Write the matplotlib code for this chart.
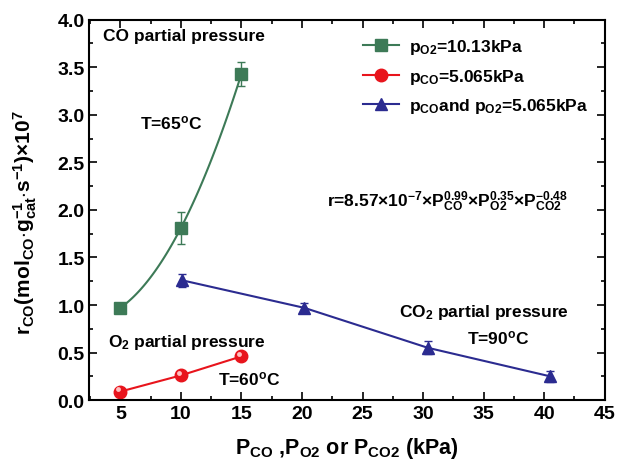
import numpy as np
import matplotlib
matplotlib.use('Agg')
import matplotlib.pyplot as plt
import matplotlib.transforms as mtrans
from matplotlib.ticker import MultipleLocator

plt.rcParams['font.family'] = 'Liberation Sans'
plt.rcParams['font.weight'] = 'bold'
plt.rcParams['axes.labelweight'] = 'bold'
plt.rcParams['mathtext.fontset'] = 'custom'
plt.rcParams['mathtext.rm'] = 'Liberation Sans:bold'
plt.rcParams['mathtext.bf'] = 'Liberation Sans:bold'
plt.rcParams['mathtext.it'] = 'Liberation Sans:bold'
plt.rcParams['mathtext.default'] = 'bf'

# CO partial pressure series (pO2 = 10.13 kPa)
co_x = [5, 10, 15]
co_y = [0.97, 1.81, 3.43]
co_err = [0.03, 0.17, 0.13]

# O2 partial pressure series (pCO = 5.065 kPa)
o2_x = [5, 10, 15]
o2_y = [0.09, 0.26, 0.46]

# CO2 partial pressure series
co2_x = [10.1, 20.2, 30.4, 40.5]
co2_y = [1.26, 0.97, 0.55, 0.25]
co2_err = [0.07, 0.05, 0.07, 0.06]

green = '#3d7a57'
red = '#e8141c'
blue = '#2b2b90'

fig, ax = plt.subplots(figsize=(6.17, 4.6), dpi=100)
fig.subplots_adjust(left=0.145, right=0.98, top=0.955, bottom=0.128)

# smooth curve through the CO points
c = np.polyfit(co_x, co_y, 2)
xs = np.linspace(co_x[0], co_x[-1], 100)
ax.plot(xs, np.polyval(c, xs), color=green, lw=1.5)
ax.errorbar(co_x, co_y, yerr=co_err, fmt='s', color=green, ms=8, capsize=3, elinewidth=1)
ax.plot([], [], '-s', color=green, ms=8, label='p$_{O2}$=10.13kPa')

ax.plot(o2_x, o2_y, '-o', color=red, ms=9, mec=red, lw=1.5,
        label='p$_{CO}$=5.065kPa')
shift = ax.transData + mtrans.ScaledTranslation(-1.5 / 72, 1.5 / 72, fig.dpi_scale_trans)
ax.plot(o2_x, o2_y, 'o', color='#ffc0c0', ms=3.5, markeredgewidth=0, transform=shift)

ax.plot(co2_x, co2_y, '-', color=blue, lw=1.5)
ax.errorbar(co2_x, co2_y, yerr=co2_err, fmt='^', color=blue, ms=9, capsize=3, elinewidth=1)
ax.plot([], [], '-^', color=blue, ms=9, label='p$_{CO}$and p$_{O2}$=5.065kPa')

ax.set_xlim(2.45, 45)
ax.set_ylim(0, 4.0)
ax.xaxis.set_major_locator(MultipleLocator(5))
ax.xaxis.set_minor_locator(MultipleLocator(2.5))
ax.yaxis.set_major_locator(MultipleLocator(0.5))
ax.yaxis.set_minor_locator(MultipleLocator(0.25))
ax.tick_params(which='both', direction='in', top=True, right=True, labelsize=14, width=1.2)
ax.tick_params(which='major', length=6)
ax.tick_params(which='minor', length=3)
plt.setp(ax.get_xticklabels() + ax.get_yticklabels(), fontweight='bold')
for s in ax.spines.values():
    s.set_linewidth(1.5)

ax.set_ylabel(r'r$_{CO}$(mol$_{CO}$$\cdot$g$_{cat}^{-1}$$\cdot$s$^{-1}$)$\times$10$^7$', fontsize=15)
ax.yaxis.set_label_coords(-0.097, 0.47)
ax.set_xlabel('P$_{CO}$ ,P$_{O2}$ or P$_{CO2}$ (kPa)', fontsize=15.5)
ax.xaxis.set_label_coords(0.5, -0.092)

ax.legend(loc='upper right', bbox_to_anchor=(0.995, 0.99), frameon=False, fontsize=12.5,
          handlelength=2.1, borderpad=0.3, labelspacing=0.6, handletextpad=0.55)

ax.text(3.6, 3.83, 'CO partial pressure', fontsize=12.5, va='center')
ax.text(6.6, 2.92, 'T=65$^o$C', fontsize=12.5, va='center')
ax.text(4.0, 0.62, 'O$_2$ partial pressure', fontsize=12.5, va='center')
ax.text(13.1, 0.23, 'T=60$^o$C', fontsize=12.5, va='center')
ax.text(28.0, 0.93, 'CO$_2$ partial pressure', fontsize=12.5, va='center')
ax.text(33.6, 0.66, 'T=90$^o$C', fontsize=12.5, va='center')
ax.text(22.1, 2.1, r'r=8.57$\times$10$^{-7}$$\times$P$_{CO}^{0.99}$$\times$P$_{O2}^{0.35}$$\times$P$_{CO2}^{-0.48}$',
        fontsize=12.5, va='center')

fig.savefig('out.png', dpi=100)
